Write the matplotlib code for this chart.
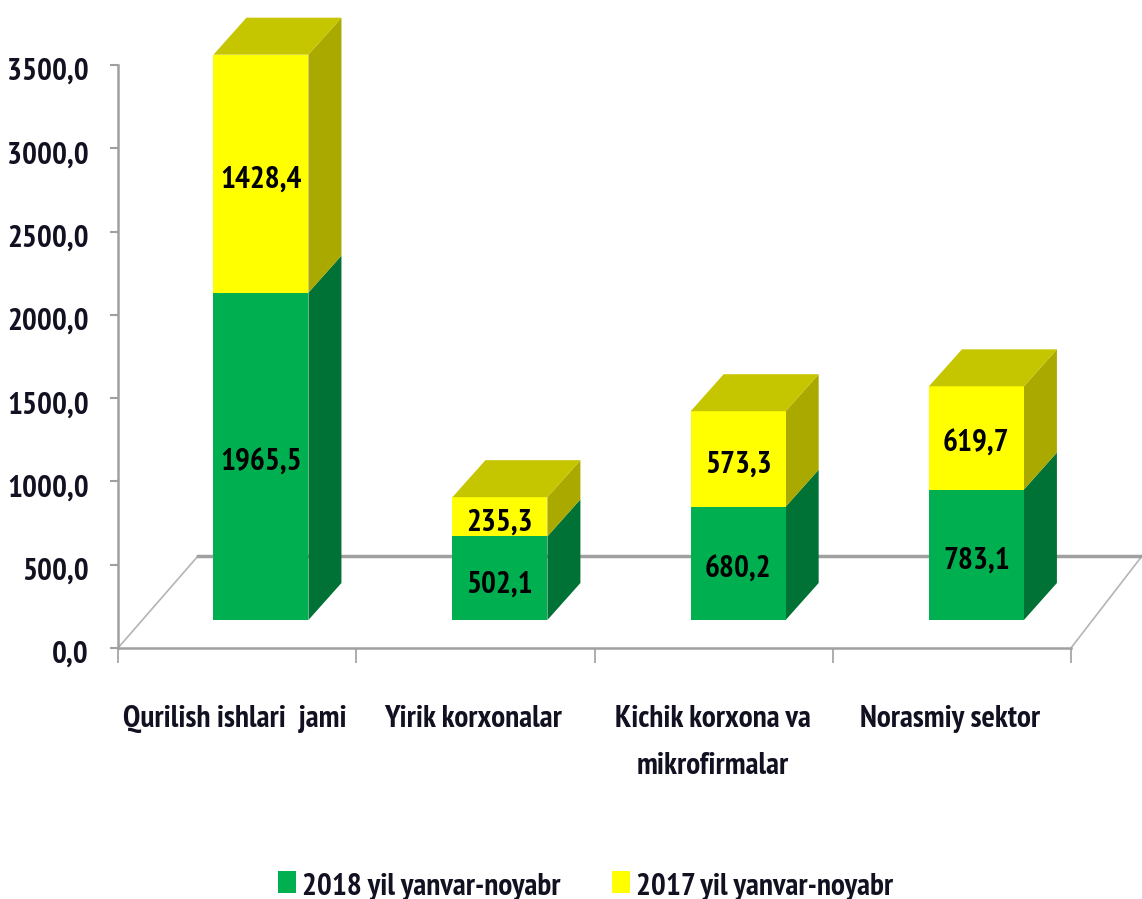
import matplotlib
matplotlib.use('Agg')
import matplotlib.pyplot as plt
from matplotlib import font_manager as fm
from matplotlib.patches import Polygon, Rectangle
from matplotlib.ticker import FuncFormatter
from matplotlib.transforms import ScaledTranslation

categories = ['Qurilish ishlari  jami', 'Yirik korxonalar', 'Kichik korxona va\nmikrofirmalar', 'Norasmiy sektor']
values_2018 = [1965.5, 502.1, 680.2, 783.1]
values_2017 = [1428.4, 235.3, 573.3, 619.7]
series_names = ['2018 yil yanvar-noyabr', '2017 yil yanvar-noyabr']
y_ticks = [0, 500, 1000, 1500, 2000, 2500, 3000, 3500]

W, H = 1142, 899
installed = {f.name for f in fm.fontManager.ttflist}
# narrow face if there is one, otherwise a smaller regular one
if 'PT Sans Narrow' in installed:
    plt.rcParams['font.family'] = ['PT Sans Narrow', 'DejaVu Sans']
    FS = 22.5
else:
    plt.rcParams['font.family'] = ['Liberation Sans', 'DejaVu Sans']
    FS = 17
plt.rcParams['font.weight'] = 'bold'

GREEN, GREEN_SIDE = '#00b050', '#007236'
YELLOW, YELLOW_SIDE, YELLOW_TOP = '#ffff00', '#a9a900', '#c6c600'
TEXT = '#111122'
GRID = '#a0a0a0'

fig = plt.figure(figsize=(W / 100, H / 100), dpi=100, facecolor='white')
ax = fig.add_axes([118 / W, 1 - 648 / H, 953 / W, 583 / H])
ax.set_xlim(0, 4)
ax.set_ylim(0, 3500)
ax.patch.set_visible(False)

# px to data scales
sx = 4 / 953
sy = 3500 / 583
depth_x = 33 * sx
depth_y = 37 * sy
base = 28 * sy
bar_w = 95 * sx
centers = [0.6, 1.603, 2.603, 3.603]
label_drop = 6 * sy


def box(left, bottom, height, front, side):
    right = left + bar_w
    top = bottom + height
    ax.add_patch(Polygon([(right, bottom), (right + depth_x, bottom + depth_y),
                          (right + depth_x, top + depth_y), (right, top)],
                         closed=True, fc=side, ec='none', clip_on=False, zorder=3))
    ax.add_patch(Rectangle((left, bottom), bar_w, height, fc=front, ec='none', clip_on=False, zorder=3))


# floor
ax.plot([0, 80 * sx], [0, 92 * sy], color='#b4b4b4', lw=1.2, clip_on=False, zorder=1)
ax.plot([953 * sx, 1024 * sx], [0, 92 * sy], color='#b4b4b4', lw=1.2, clip_on=False, zorder=1)
ax.plot([80 * sx, 1024 * sx], [92 * sy, 92 * sy], color=GRID, lw=2.5, clip_on=False, zorder=1)

for c, v18, v17 in zip(centers, values_2018, values_2017):
    left = c - bar_w / 2
    box(left, base, v18, GREEN, GREEN_SIDE)
    box(left, base + v18, v17, YELLOW, YELLOW_SIDE)
    top = base + v18 + v17
    ax.add_patch(Polygon([(left, top), (left + bar_w, top),
                          (left + bar_w + depth_x, top + depth_y), (left + depth_x, top + depth_y)],
                         closed=True, fc=YELLOW_TOP, ec='none', clip_on=False, zorder=3))
    ax.text(c, base + v18 / 2 - label_drop, f'{v18:.1f}'.replace('.', ','), ha='center', va='center',
            fontsize=FS, color='black', zorder=5)
    ax.text(c, base + v18 + v17 / 2 - label_drop, f'{v17:.1f}'.replace('.', ','), ha='center', va='center',
            fontsize=FS, color='black', zorder=5)

ax.set_xticks([0, 1, 2, 3, 4])
ax.set_xticklabels([])
ax.set_yticks(y_ticks)
ax.yaxis.set_major_formatter(FuncFormatter(lambda v, p: f'{v:.1f}'.replace('.', ',')))
ax.tick_params(axis='y', length=6, width=1.5, color=GRID, labelsize=FS, labelcolor=TEXT, pad=15)
ax.tick_params(axis='x', length=11, width=1.2, color=GRID)
down = ScaledTranslation(0, -3 / 72, fig.dpi_scale_trans)
for lab in ax.get_yticklabels():
    lab.set_transform(lab.get_transform() + down)
for s in ['top', 'right']:
    ax.spines[s].set_visible(False)
for s in ['left', 'bottom']:
    ax.spines[s].set_color(GRID)
    ax.spines[s].set_linewidth(1.8)

label_x = [235, 473, 713, 950]
for px, label in zip(label_x, categories):
    fig.text(px / W, 1 - 705 / H, label, ha='center', va='top', fontsize=FS, color=TEXT, linespacing=1.85)

# legend
for px, col, name in [(278, GREEN, series_names[0]), (612, YELLOW, series_names[1])]:
    fig.patches.append(Rectangle((px / W, 1 - 893 / H), 18 / W, 22 / H, transform=fig.transFigure, fc=col, ec='none'))
    fig.text((px + 24) / W, 1 - 887 / H, name, ha='left', va='center', fontsize=FS, color=TEXT)

fig.savefig('out.png', dpi=100, facecolor='white')
